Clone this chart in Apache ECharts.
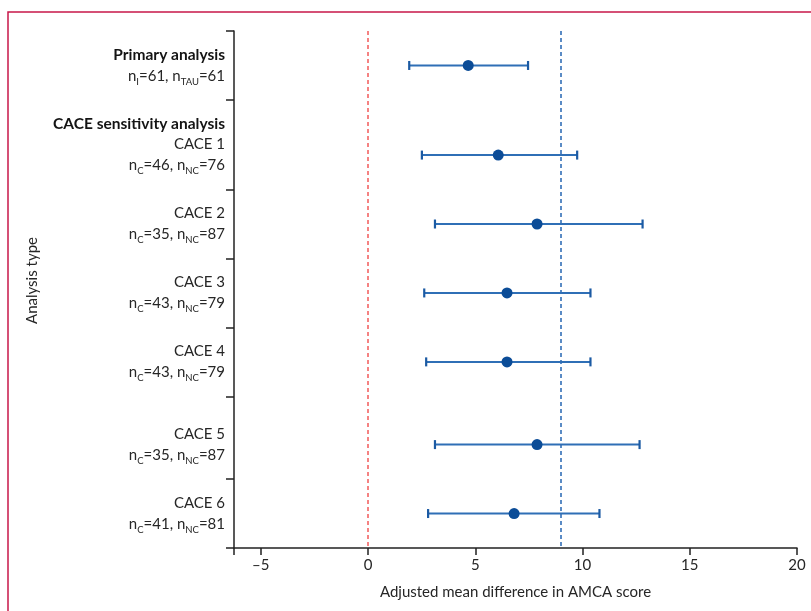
<!DOCTYPE html>
<html><head><meta charset="utf-8">
<script src="https://cdn.jsdelivr.net/npm/echarts@6/dist/echarts.min.js"></script>
<style>html,body{margin:0;padding:0;background:#fff}#c{width:811px;height:611px}</style>
</head><body><div id="c"></div>
<script>
// ---- data ----
const analyses = ['Primary analysis', 'CACE 1', 'CACE 2', 'CACE 3', 'CACE 4', 'CACE 5', 'CACE 6'];
const groupA = ['I', 'C', 'C', 'C', 'C', 'C', 'C'];
const nA = [61, 46, 35, 43, 43, 35, 41];
const groupB = ['TAU', 'NC', 'NC', 'NC', 'NC', 'NC', 'NC'];
const nB = [61, 76, 87, 79, 79, 87, 81];
const estimate = [4.67, 6.07, 7.88, 6.48, 6.48, 7.88, 6.81];
const lower = [1.92, 2.51, 3.12, 2.62, 2.71, 3.12, 2.80];
const upper = [7.46, 9.75, 12.80, 10.37, 10.37, 12.66, 10.79];
const sectionHeader = 'CACE sensitivity analysis';
const referenceLines = [0, 9];
const xTickLabels = [-5, 0, 5, 10, 15, 20];

// ---- layout (row slots on the vertical axis) ----
const rowPos = [0.5, 1.8, 2.8, 3.8, 4.8, 6.0, 7.0];
const headerPos = 1.35;
const rowTicks = [0, 1.0, 2.3, 3.3, 4.3, 5.3, 6.5, 7.5];
const X_MIN = -6.25, X_MAX = 20;

const FONT = 'Lato';
const LINE = '#1b5aa3';
const DOT = '#0b4c97';
const TXT = '#262626';

function labelFor(v) {
  if (Math.abs(v - headerPos) < 1e-6) return '{h|' + sectionHeader + '}';
  const i = rowPos.findIndex(p => Math.abs(p - v) < 1e-6);
  if (i < 0) return '';
  const first = i === 0 ? '{h|' + analyses[i] + '}' : '{t|' + analyses[i] + '}';
  return first + '\n{t|n}{s|' + groupA[i] + '}{t|=' + nA[i] + ', n}{s|' + groupB[i] + '}{t|=' + nB[i] + '}';
}

const chart = echarts.init(document.getElementById('c'), null, {renderer: 'canvas'});
const option = {
  backgroundColor: '#fff',
  animation: false,
  textStyle: {fontFamily: FONT},
  graphic: [{
    type: 'rect', silent: true, z: -1,
    shape: {x: 8, y: 12, width: 1000, height: 1000},
    style: {fill: 'none', stroke: '#c8174a', lineWidth: 1.5}
  }],
  grid: {left: 234, right: 14, top: 31, bottom: 63},
  xAxis: {
    type: 'value', min: X_MIN, max: X_MAX, position: 'bottom',
    name: 'Adjusted mean difference in AMCA score',
    nameLocation: 'middle', nameGap: 37,
    nameTextStyle: {fontFamily: FONT, fontSize: 15, color: TXT},
    splitLine: {show: false},
    axisLine: {show: true, onZero: false, lineStyle: {color: '#222', width: 1.5}},
    axisTick: {show: true, length: 7, lineStyle: {color: '#222', width: 1.5},
      customValues: [X_MIN].concat(xTickLabels)},
    axisLabel: {
      customValues: xTickLabels, margin: 10,
      fontFamily: FONT, fontSize: 15, color: TXT,
      formatter: v => String(v).replace('-', '\u2013')
    }
  },
  yAxis: {
    type: 'value', inverse: true, min: 0, max: 7.5, position: 'left',
    name: 'Analysis type', nameLocation: 'middle', nameGap: 194, nameRotate: 90,
    nameTextStyle: {fontFamily: FONT, fontSize: 15, color: TXT, padding: [0, 0, 0, 18]},
    splitLine: {show: false},
    axisLine: {show: true, onZero: false, lineStyle: {color: '#222', width: 1.5}},
    axisTick: {show: true, length: 8, lineStyle: {color: '#222', width: 1.5}, customValues: rowTicks},
    axisLabel: {
      customValues: [rowPos[0], headerPos].concat(rowPos.slice(1)),
      margin: 9,
      formatter: labelFor,
      rich: {
        h: {fontFamily: FONT, fontSize: 15.5, fontWeight: 'bold', color: '#141414', lineHeight: 21},
        t: {fontFamily: FONT, fontSize: 15, color: TXT, lineHeight: 21},
        s: {fontFamily: FONT, fontSize: 9.5, color: TXT, lineHeight: 21, verticalAlign: 'bottom'}
      }
    }
  },
  series: [
    {
      type: 'custom',
      name: 'CI',
      z: 3,
      data: rowPos.map((p, i) => [lower[i], upper[i], p]),
      encode: {x: [0, 1], y: 2},
      renderItem: function (params, api) {
        const a = api.coord([api.value(0), api.value(2)]);
        const b = api.coord([api.value(1), api.value(2)]);
        const h = 4.5;
        return {
          type: 'group',
          children: [
            {type: 'line', shape: {x1: a[0], y1: a[1], x2: b[0], y2: b[1]}, style: {stroke: '#2f6fb6', lineWidth: 2}},
            {type: 'line', shape: {x1: a[0], y1: a[1] - h, x2: a[0], y2: a[1] + h}, style: {stroke: LINE, lineWidth: 2.2}},
            {type: 'line', shape: {x1: b[0], y1: b[1] - h, x2: b[0], y2: b[1] + h}, style: {stroke: LINE, lineWidth: 2.2}}
          ]
        };
      }
    },
    {
      type: 'scatter',
      name: 'Estimate',
      z: 4,
      symbol: 'circle', symbolSize: 11,
      itemStyle: {color: DOT, opacity: 1},
      data: rowPos.map((p, i) => [estimate[i], p]),
      markLine: {
        silent: true, symbol: 'none', z: 1,
        label: {show: false},
        data: [
          {xAxis: referenceLines[0], lineStyle: {color: '#f25a5a', type: [4, 3], width: 1.5}},
          {xAxis: referenceLines[1], lineStyle: {color: '#2466b3', type: [4, 3], width: 1.5}}
        ]
      }
    }
  ]
};
chart.setOption(option);
</script>
</body></html>
